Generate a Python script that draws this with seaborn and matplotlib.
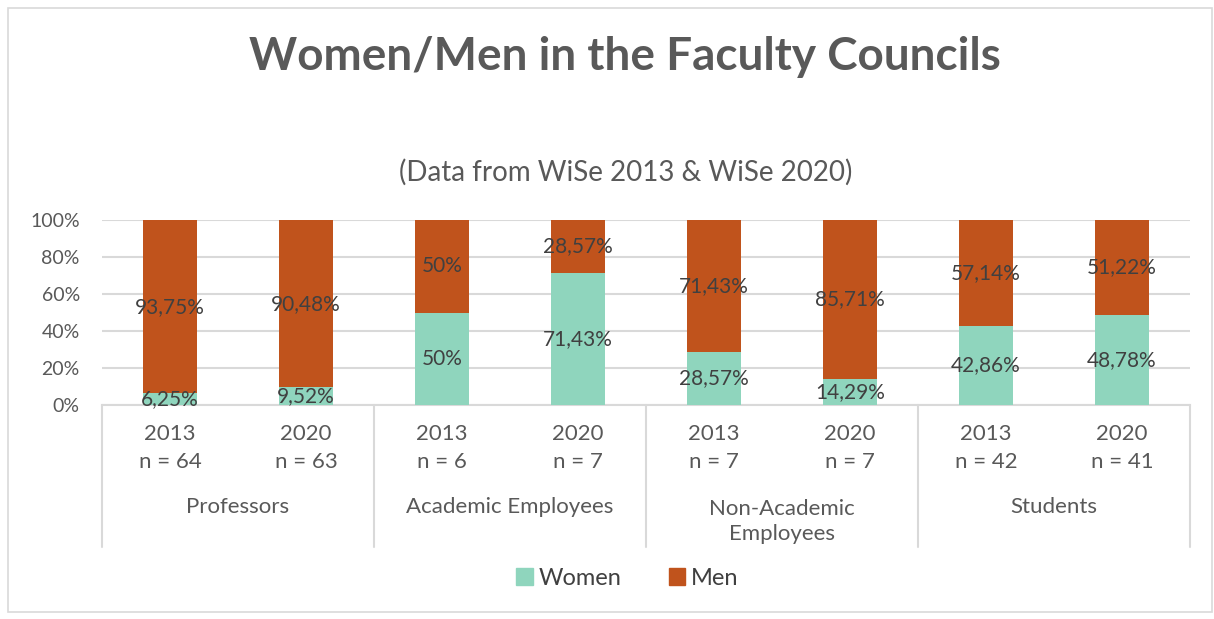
import matplotlib
matplotlib.use("Agg")
import matplotlib.pyplot as plt
import matplotlib.patches as mpatches
import pandas as pd
import seaborn as sns

# data
groups = ["Professors", "Academic Employees", "Non-Academic\nEmployees", "Students"]
years = ["2013", "2020", "2013", "2020", "2013", "2020", "2013", "2020"]
n_members = [64, 63, 6, 7, 7, 7, 42, 41]
women = [6.25, 9.52, 50, 71.43, 28.57, 14.29, 42.86, 48.78]
men = [93.75, 90.48, 50, 28.57, 71.43, 85.71, 57.14, 51.22]
women_labels = ["6,25%", "9,52%", "50%", "71,43%", "28,57%", "14,29%", "42,86%", "48,78%"]
men_labels = ["93,75%", "90,48%", "50%", "28,57%", "71,43%", "85,71%", "57,14%", "51,22%"]
yticks = [0, 20, 40, 60, 80, 100]

women_color = "#8FD5BD"
men_color = "#C0531C"
text_color = "#595959"
grid_color = "#D9D9D9"

df = pd.DataFrame({
    "pos": list(range(len(years))),
    "women": women,
    "men": men,
})
df["total"] = df["women"] + df["men"]

sns.set_theme(style="white")
plt.rcParams["font.family"] = ["Lato", "DejaVu Sans"]

fig = plt.figure(figsize=(12.14, 6.19), dpi=100)
ax = fig.add_axes([0.084, 0.3457, 0.8962, 0.2989])

# stacked bars: men drawn as full height, women over it
sns.barplot(data=df, x="pos", y="total", color=men_color, width=0.4,
            saturation=1, linewidth=0, ax=ax, zorder=2)
sns.barplot(data=df, x="pos", y="women", color=women_color, width=0.4,
            saturation=1, linewidth=0, ax=ax, zorder=3)

# data labels
for i in range(len(years)):
    ax.text(i, women[i] / 2, women_labels[i], ha="center", va="center",
            fontsize=15, color="#404040", zorder=4)
    ax.text(i, women[i] + men[i] / 2, men_labels[i], ha="center", va="center",
            fontsize=15, color="#404040", zorder=4)

ax.set_xlim(-0.5, len(years) - 0.5)
ax.set_ylim(0, 100)
ax.set_yticks(yticks)
ax.set_yticklabels([f"{t}%" for t in yticks], fontsize=14, color=text_color)
ax.set_xticks(range(len(years)))
ax.set_xticklabels([f"{y}\nn = {n}" for y, n in zip(years, n_members)],
                   fontsize=16, color=text_color, linespacing=1.5)
ax.tick_params(axis="y", length=0, pad=16)
ax.tick_params(axis="x", length=0, pad=14)
ax.set_xlabel("")
ax.set_ylabel("")
ax.yaxis.grid(True, color=grid_color, linewidth=1.5, zorder=0)
ax.set_axisbelow(True)
for side in ["top", "right", "left"]:
    ax.spines[side].set_visible(False)
ax.spines["bottom"].set_color(grid_color)
ax.spines["bottom"].set_linewidth(1.5)

# group separators and labels below the axis
for b in [-0.5, 1.5, 3.5, 5.5, 7.5]:
    ax.plot([b, b], [0, -77], color=grid_color, linewidth=1.5,
            clip_on=False, zorder=1)
for k, g in enumerate(groups):
    ax.text(2 * k + 0.5, -55 if "\n" not in g else -63, g, ha="center", va="center",
            fontsize=16, color=text_color, linespacing=1.3)

# titles
fig.text(0.515, 0.908, "Women/Men in the Faculty Councils", ha="center", va="center",
         fontsize=33, fontweight="bold", color=text_color)
fig.text(0.515, 0.722, "(Data from WiSe 2013 & WiSe 2020)", ha="center", va="center",
         fontsize=20, color=text_color)

# legend
handles = [mpatches.Patch(color=women_color, label="Women"),
           mpatches.Patch(color=men_color, label="Men")]
fig.legend(handles=handles, loc="center", bbox_to_anchor=(0.517, 0.066), ncol=2,
           frameon=False, fontsize=17, handlelength=0.7, handleheight=0.7,
           handletextpad=0.25, columnspacing=2.0, labelcolor="#404040")

# chart border
fig.patches.append(mpatches.Rectangle((0.007, 0.012), 0.991, 0.975, transform=fig.transFigure,
                                      fill=False, edgecolor=grid_color, linewidth=1.2))

fig.savefig("out.png", dpi=100)
